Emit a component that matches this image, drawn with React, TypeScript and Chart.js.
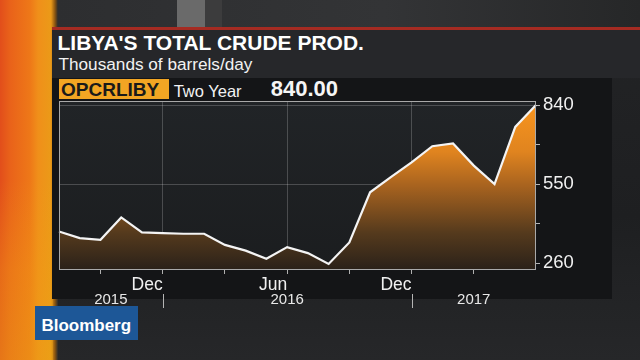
import React, { useEffect, useRef } from 'react';
import { Chart, registerables } from 'chart.js';

Chart.register(...registerables);

// ---- data ----
const months = ['Jul', 'Aug', 'Sep', 'Oct', 'Nov', 'Dec', 'Jan', 'Feb', 'Mar', 'Apr', 'May', 'Jun',
  'Jul', 'Aug', 'Sep', 'Oct', 'Nov', 'Dec', 'Jan', 'Feb', 'Mar', 'Apr', 'May', 'Jun'];
const years = [2015, 2015, 2015, 2015, 2015, 2015,
  2016, 2016, 2016, 2016, 2016, 2016, 2016, 2016, 2016, 2016, 2016, 2016,
  2017, 2017, 2017, 2017, 2017, 2017];
const production = [376, 352, 346, 428, 373, 370, 368, 368, 327, 306, 276, 319,
  297, 257, 336, 520, 576, 630, 689, 699, 618, 550, 760, 840];
const quarterMonths = ['Mar', 'Jun', 'Sep', 'Dec'];
const labelledMonths = ['Jun', 'Dec'];
const yTicks = [260, 405, 550, 695, 840];
const yLabelled = [260, 550, 840];
const yMin = 235;
const yMax = 855;

const FONT = '"Liberation Sans", Arial, sans-serif';
const GRID = 'rgba(255,255,255,0.2)';
const NONE = 'rgba(0,0,0,0)';

const inner = (i: number) => i > 0 && i < months.length - 1;

const framePlugin = {
  id: 'frame',
  beforeDraw(chart: any) {
    const { ctx, chartArea: a } = chart;
    if (!a) return;
    const g = ctx.createLinearGradient(0, a.top, 0, a.bottom);
    g.addColorStop(0, '#212427');
    g.addColorStop(1, '#1b1d1f');
    ctx.save();
    ctx.fillStyle = g;
    ctx.fillRect(a.left, a.top, a.right - a.left, a.bottom - a.top);
    ctx.restore();
  },
  afterDraw(chart: any) {
    const { ctx, chartArea: a } = chart;
    const xs = chart.scales.x;
    ctx.save();
    ctx.strokeStyle = '#a9a9a9';
    ctx.lineWidth = 1;
    ctx.strokeRect(Math.round(a.left) + 0.5, Math.round(a.top) + 0.5,
      Math.round(a.right - a.left) - 1, Math.round(a.bottom - a.top) - 1);
    // year labels and separators
    const uniq = Array.from(new Set(years));
    ctx.fillStyle = '#e8e8e8';
    ctx.font = `15px ${FONT}`;
    ctx.textAlign = 'center';
    ctx.textBaseline = 'alphabetic';
    uniq.forEach((yr, k) => {
      const first = years.indexOf(yr);
      const last = years.lastIndexOf(yr);
      const from = xs.getPixelForValue(Math.max(first - 1, 0));
      const to = xs.getPixelForValue(last);
      ctx.fillText(String(yr), (from + to) / 2, 303.5);
      if (k < uniq.length - 1) {
        const px = Math.round(to) + 0.5;
        ctx.strokeStyle = '#b5b5b5';
        ctx.beginPath();
        ctx.moveTo(px, 294);
        ctx.lineTo(px, 308);
        ctx.stroke();
      }
    });
    ctx.restore();
  },
};

function LibyaChart() {
  const ref = useRef<HTMLCanvasElement | null>(null);
  useEffect(() => {
    if (!ref.current) return;
    const chart = new Chart(ref.current, {
      type: 'line',
      data: {
        labels: months,
        datasets: [{
          data: production,
          borderColor: '#f4f4f4',
          borderWidth: 2.2,
          pointRadius: 0,
          tension: 0,
          fill: 'start',
          backgroundColor: (c: any) => {
            const a = c.chart.chartArea;
            if (!a) return NONE;
            const g = c.chart.ctx.createLinearGradient(0, a.top, 0, a.bottom);
            g.addColorStop(0, '#fa961e');
            g.addColorStop(0.3, '#e0841f');
            g.addColorStop(0.5, '#a8631f');
            g.addColorStop(0.78, '#553a1d');
            g.addColorStop(1, '#2a2119');
            return g;
          },
        }],
      },
      options: {
        animation: false,
        responsive: false,
        layout: { padding: { left: 59, top: 101, right: 0, bottom: 0 } },
        plugins: { legend: { display: false }, tooltip: { enabled: false } },
        scales: {
          x: {
            type: 'category',
            position: 'bottom',
            z: 1,
            offset: false,
            border: { display: false },
            grid: {
              offset: false,
              color: (c: any) => inner(c.index) && labelledMonths.includes(months[c.index]) ? GRID : NONE,
              tickColor: (c: any) => inner(c.index) && quarterMonths.includes(months[c.index]) ? '#b0b0b0' : NONE,
              tickLength: 4,
              lineWidth: 1,
            },
            ticks: {
              autoSkip: false,
              maxRotation: 0,
              minRotation: 0,
              align: 'end',
              padding: 1,
              color: '#f0f0f0',
              font: { family: FONT, size: 17.5 },
              callback: (_v: any, i: number) => inner(i) && labelledMonths.includes(months[i]) ? months[i] : '',
            },
            afterFit: (s: any) => { s.height = 90; },
          },
          y: {
            type: 'linear',
            position: 'right',
            min: yMin,
            max: yMax,
            z: 1,
            border: { display: false },
            afterBuildTicks: (s: any) => { s.ticks = yTicks.map((v) => ({ value: v })); },
            grid: {
              color: (c: any) => c.tick && yLabelled.includes(c.tick.value) ? GRID : NONE,
              tickColor: '#b5b5b5',
              tickLength: 4,
              lineWidth: 1,
            },
            ticks: {
              padding: 3,
              color: '#f0f0f0',
              font: { family: FONT, size: 18.5 },
              callback: (v: any) => yLabelled.includes(Number(v)) ? String(v) : '',
            },
            afterFit: (s: any) => { s.width = 104; },
          },
        },
      },
      plugins: [framePlugin],
    } as any);
    return () => chart.destroy();
  }, []);
  return <canvas ref={ref} width={640} height={360} style={{ position: 'absolute', left: 0, top: 0, width: 640, height: 360 }} />;
}

const abs = (s: React.CSSProperties): React.CSSProperties => ({ position: 'absolute', ...s });

export default function App() {
  return (
    <div style={{ position: 'fixed', left: 0, top: 0, width: 640, height: 360, overflow: 'hidden', background: 'linear-gradient(180deg, #232426 0%, #1e1f21 60%, #262729 100%)', fontFamily: FONT }}>
      {/* top studio band */}
      <div style={abs({ left: 0, top: 0, width: 640, height: 27, background: 'linear-gradient(90deg, #2c2d2f, #333436 60%, #262728)' })} />
      <div style={abs({ left: 177, top: 0, width: 28, height: 27, background: '#6a6a6a' })} />
      <div style={abs({ left: 205, top: 0, width: 17, height: 27, background: '#3c3c3d' })} />
      {/* left orange strip */}
      <div style={abs({ left: 0, top: 0, width: 58, height: 360, background: 'linear-gradient(90deg, #e24e1b 0px, #e9621a 10px, #ee7818 30px, #f08f1a 38px, #eb9a18 51px, #8a5510 55px, #2a2b2d 58px)' })} />
      <div style={abs({ left: 0, top: 0, width: 53, height: 360, background: 'linear-gradient(180deg, rgba(0,0,0,0) 50%, rgba(240,160,20,0.35) 75%, rgba(235,165,20,0.45) 100%)' })} />
      {/* chart panel */}
      <div style={abs({ left: 52, top: 78, width: 560, height: 221, background: '#141517' })} />
      {/* red rule + title panel */}
      <div style={abs({ left: 52, top: 27, width: 588, height: 3, background: '#a52b22' })} />
      <div style={abs({ left: 52, top: 30, width: 588, height: 48, background: '#26272a' })} />
      <div style={abs({ left: 57.5, top: 32.2, fontSize: 21, lineHeight: '21px', fontWeight: 'bold', color: '#ffffff', whiteSpace: 'nowrap' })}>LIBYA'S TOTAL CRUDE PROD.</div>
      <div style={abs({ left: 58.5, top: 56.4, fontSize: 17.2, lineHeight: '17.2px', color: '#f2f2f2', whiteSpace: 'nowrap' })}>Thousands of barrels/day</div>
      {/* ticker row */}
      <div style={abs({ left: 59, top: 79.3, width: 110, height: 20, background: '#f2a523' })} />
      <div style={abs({ left: 61, top: 79.9, fontSize: 19, lineHeight: '19px', fontWeight: 'bold', color: '#1a1a1a', whiteSpace: 'nowrap' })}>OPCRLIBY</div>
      <div style={abs({ left: 173.7, top: 82.6, fontSize: 16.5, lineHeight: '16.5px', color: '#f2f2f2', whiteSpace: 'nowrap' })}>Two Year</div>
      <div style={abs({ left: 270.8, top: 78.1, fontSize: 22, lineHeight: '22px', fontWeight: 'bold', color: '#f5f5f5', whiteSpace: 'nowrap' })}>840.00</div>
      <LibyaChart />
      {/* logo */}
      <div style={abs({ left: 35, top: 306, width: 103, height: 34, background: '#1d5797' })} />
      <div style={abs({ left: 41.4, top: 316.6, fontSize: 17, lineHeight: '17px', fontWeight: 'bold', color: '#ffffff', whiteSpace: 'nowrap' })}>Bloomberg</div>
    </div>
  );
}
